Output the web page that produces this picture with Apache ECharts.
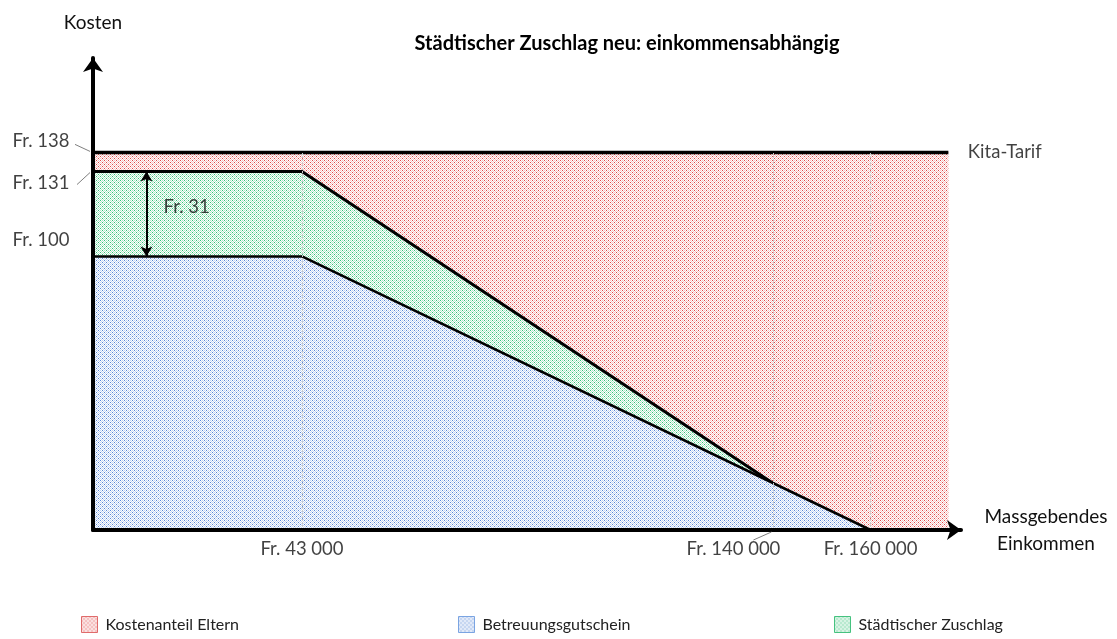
<!DOCTYPE html>
<html lang="de">
<head>
<meta charset="UTF-8">
<title>Städtischer Zuschlag neu</title>
</head>
<body style="margin:0">
<div id="chart" style="width:1117px;height:639px;"></div>
<script src="https://cdn.jsdelivr.net/npm/echarts@6/dist/echarts.min.js"></script>
<script>
// Stützpunkte der Flächen [Einkommen, Kosten]
var kitaTarif = [[0, 138], [176000, 138]];
var zuschlagOben = [[0, 131], [43000, 131], [140000, 17]];
var gutschein = [[0, 100], [43000, 100], [160000, 0]];
var xMarks = [43000, 140000, 160000];
var xLabels = ['Fr. 43 000', 'Fr. 140 000', 'Fr. 160 000'];
var yMarks = [138, 131, 100];
var yLabels = ['Fr. 138', 'Fr. 131', 'Fr. 100'];
var differenz = [131, 100]; // Fr. 31
var namen = ['Kostenanteil Eltern', 'Betreuungsgutschein', 'Städtischer Zuschlag'];

var schrift = 'Lato';

// gepunktetes Füllmuster
function punkte(hell, dunkel) {
    var c = document.createElement('canvas');
    c.width = 4; c.height = 4;
    var ctx = c.getContext('2d');
    ctx.fillStyle = '#fff';
    ctx.fillRect(0, 0, 4, 4);
    ctx.fillStyle = hell;
    for (var y = 0; y < 4; y++) {
        for (var x = 0; x < 4; x++) {
            if ((x + y) % 2 === 0) ctx.fillRect(x, y, 1, 1);
        }
    }
    ctx.fillStyle = dunkel;
    ctx.fillRect(0, 0, 1, 1);
    ctx.fillRect(2, 2, 1, 1);
    return { image: c, repeat: 'repeat' };
}
var rot = punkte('#f6c2c2', '#e04848');
var blau = punkte('#c3d4f2', '#5a86d6');
var gruen = punkte('#b0e8c8', '#35c078');

// Beschriftungen an den Achsen
var beschriftung = [];
xMarks.forEach(function (x, i) {
    beschriftung.push({
        value: [x, 0],
        label: { formatter: xLabels[i], position: 'bottom', distance: 9, offset: i === 1 ? [-40, 0] : [0, 0] }
    });
});
var yOffsets = [[0, -11], [0, 11], [0, -16]];
yMarks.forEach(function (y, i) {
    beschriftung.push({
        value: [0, y],
        label: { formatter: yLabels[i], position: 'left', distance: 23, offset: yOffsets[i] }
    });
});
beschriftung.push({
    value: kitaTarif[1],
    label: { formatter: 'Kita-Tarif', position: 'right', distance: 19 }
});
beschriftung.push({
    value: [14000, (differenz[0] + differenz[1]) / 2],
    label: { formatter: 'Fr. ' + (differenz[0] - differenz[1]), position: 'right', distance: 2, offset: [0, -7] }
});

function legende(name, x, muster, rand) {
    return {
        left: x,
        bottom: 1,
        icon: 'rect',
        itemWidth: 16,
        itemHeight: 16,
        itemGap: 0,
        selectedMode: false,
        textStyle: { fontFamily: schrift, fontSize: 16, color: '#222', padding: [0, 0, 0, 3] },
        data: [{ name: name, itemStyle: { color: muster, borderColor: rand, borderWidth: 1 } }]
    };
}

var option = {
    animation: false,
    backgroundColor: '#fff',
    title: {
        text: 'Städtischer Zuschlag neu: einkommensabhängig',
        left: 622,
        top: 29,
        textAlign: 'center',
        textStyle: { fontFamily: schrift, fontSize: 20, fontWeight: 'bold', color: '#000' }
    },
    legend: [
        legende(namen[0], 76, rot, '#e06b6b'),
        legende(namen[1], 453, blau, '#7aa4e2'),
        legende(namen[2], 829, gruen, '#45c27f')
    ],
    grid: { left: 93, right: 156, top: 58, bottom: 109 },
    xAxis: {
        type: 'value',
        min: 0,
        max: 178600,
        z: 10,
        name: 'Massgebendes\nEinkommen',
        nameLocation: 'end',
        nameGap: 85,
        nameTextStyle: { fontFamily: schrift, fontSize: 19, lineHeight: 27, align: 'center', color: '#111' },
        axisLine: { lineStyle: { color: '#000', width: 4 }, symbol: ['none', 'arrow'], symbolSize: [15, 14] },
        axisTick: { show: false },
        axisLabel: { show: false },
        splitLine: { show: false }
    },
    yAxis: {
        type: 'value',
        min: 0,
        max: 172.5,
        z: 10,
        name: 'Kosten',
        nameLocation: 'end',
        nameGap: 26,
        nameTextStyle: { fontFamily: schrift, fontSize: 19, color: '#111' },
        axisLine: { lineStyle: { color: '#000', width: 4 }, symbol: ['none', 'arrow'], symbolSize: [15, 14] },
        axisTick: { show: false },
        axisLabel: { show: false },
        splitLine: { show: false }
    },
    series: [
        {
            name: namen[0],
            type: 'line',
            z: 1,
            showSymbol: false,
            data: kitaTarif,
            lineStyle: { color: '#000', width: 3.5 },
            areaStyle: { color: rot, opacity: 1 }
        },
        {
            name: namen[2],
            type: 'line',
            z: 2,
            showSymbol: false,
            data: zuschlagOben,
            lineStyle: { color: '#000', width: 3 },
            areaStyle: { color: gruen, opacity: 1 }
        },
        {
            name: namen[1],
            type: 'line',
            z: 3,
            showSymbol: false,
            data: gutschein,
            lineStyle: { color: '#000', width: 2.5 },
            areaStyle: { color: blau, opacity: 1 },
            markLine: {
                silent: true,
                symbol: 'none',
                label: { show: false },
                lineStyle: { color: '#c8c8c8', width: 1, type: [2, 1] },
                data: xMarks.map(function (x) {
                    return [{ coord: [x, 0] }, { coord: [x, kitaTarif[0][1]] }];
                }).concat([[
                    { coord: [11000, differenz[0]], symbol: 'arrow', symbolSize: [9, 10], lineStyle: { color: '#000', width: 2, type: 'solid' } },
                    { coord: [11000, differenz[1]], symbol: 'arrow', symbolSize: [9, 10] }
                ]])
            }
        },
        {
            name: 'beschriftung',
            type: 'scatter',
            z: 5,
            silent: true,
            symbolSize: 1,
            itemStyle: { color: 'rgba(0,0,0,0)' },
            label: { show: true, fontFamily: schrift, fontSize: 18.5, color: '#111' },
            data: beschriftung
        }
    ]
};

var chart = echarts.init(document.getElementById('chart'));
chart.setOption(option);

// kurze Hinweislinien zu den Beschriftungen
function pkt(v) { return chart.convertToPixel({ gridIndex: 0 }, v); }
var p138 = pkt([0, yMarks[0]]);
var p131 = pkt([0, yMarks[1]]);
var p140 = pkt([xMarks[1], 0]);
var hinweis = { stroke: '#7f7f7f', lineWidth: 1 };
chart.setOption({
    graphic: [
        { type: 'line', z: 20, shape: { x1: p138[0] - 18, y1: p138[1] - 8, x2: p138[0] - 3, y2: p138[1] - 1 }, style: hinweis },
        { type: 'line', z: 20, shape: { x1: p131[0] - 16, y1: p131[1] + 13, x2: p131[0] - 3, y2: p131[1] + 1 }, style: hinweis },
        { type: 'line', z: 20, shape: { x1: p140[0] - 2, y1: p140[1] + 2, x2: p140[0] - 20, y2: p140[1] + 10 }, style: hinweis }
    ]
});
</script>
</body>
</html>
